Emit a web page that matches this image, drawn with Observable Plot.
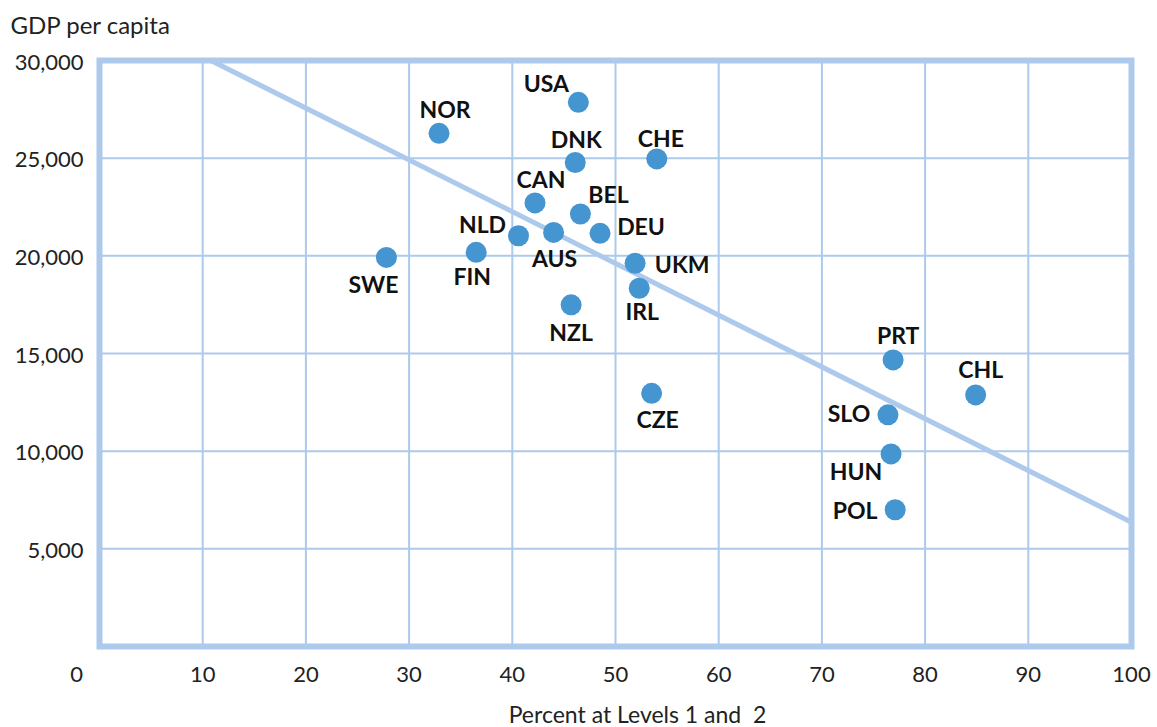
<!DOCTYPE html>
<html>
<head>
<meta charset="utf-8">
<script src="https://cdn.jsdelivr.net/npm/d3@7"></script>
<script src="https://cdn.jsdelivr.net/npm/@observablehq/plot@0.6"></script>
<style>
  html, body { margin: 0; padding: 0; background: #fff; }
  #chart svg { display: block; }
</style>
</head>
<body>
<div id="chart"></div>
<script>
// ---- data ----
const codes   = ["USA","NOR","DNK","CHE","CAN","BEL","DEU","NLD","AUS","FIN","SWE","UKM","IRL","NZL","CZE","PRT","CHL","SLO","HUN","POL"];
const percent = [46.4, 32.9, 46.1, 54.0, 42.2, 46.6, 48.5, 40.6, 44.0, 36.5, 27.8, 51.9, 52.3, 45.7, 53.5, 76.9, 84.9, 76.4, 76.7, 77.1];
const gdp     = [27860, 26270, 24780, 24960, 22710, 22140, 21150, 21030, 21200, 20180, 19920, 19620, 18340, 17490, 12960, 14670, 12880, 11860, 9860, 7000];
const trendX  = [10.8, 100];
const trendY  = [30000, 6360];
const xTicks  = [0, 10, 20, 30, 40, 50, 60, 70, 80, 90, 100];
const yTicks  = [5000, 10000, 15000, 20000, 25000, 30000];
const yTitle  = "GDP per capita";
const xTitle  = "Percent at Levels 1 and\u00a0 2";

// ---- layout (label placement, not data) ----
const labelOffset = {
  USA: [-32, -18], NOR: [6, -23], DNK: [1, -22], CHE: [4, -19], CAN: [6, -22],
  BEL: [28, -18], DEU: [41, -6], NLD: [-36, -10], AUS: [1, 27], FIN: [-4, 25],
  SWE: [-13, 28], UKM: [47, 2], IRL: [3, 24], NZL: [0, 29], CZE: [6, 27],
  PRT: [5, -23], CHL: [5, -24], SLO: [-39, 0], HUN: [-35, 19], POL: [-40, 2]
};

const rows = codes.map((c, i) => ({code: c, x: percent[i], y: gdp[i]}));
const trend = trendX.map((x, i) => ({x, y: trendY[i]}));

const light = "#adc9ec";
const dotColor = "#4595d1";
const ink = "#222";
const font = "Lato, 'Open Sans', sans-serif";

const labelMarks = rows.map(d => Plot.text([d], {
  x: "x", y: "y", text: "code",
  dx: labelOffset[d.code][0], dy: labelOffset[d.code][1],
  fontSize: 23, fontWeight: 700, fill: "#111"
}));

const tickStyle = {tickSize: 0, fontSize: 22, fontWeight: 400, fill: ink, label: null};

const chart = Plot.plot({
  width: 1157,
  height: 727,
  marginLeft: 99,
  marginRight: 26,
  marginTop: 60,
  marginBottom: 81,
  style: {fontFamily: font, background: "#fff", color: ink},
  x: {domain: [0, 100], axis: null},
  y: {domain: [0, 30000], axis: null},
  marks: [
    Plot.gridX(xTicks.slice(1, -1), {stroke: light, strokeOpacity: 1, strokeWidth: 2}),
    Plot.gridY(yTicks.slice(0, -1), {stroke: light, strokeOpacity: 1, strokeWidth: 2}),
    Plot.line(trend, {x: "x", y: "y", stroke: light, strokeWidth: 5, clip: true}),
    Plot.frame({stroke: light, strokeWidth: 6}),
    Plot.dot(rows, {x: "x", y: "y", r: 10.5, fill: dotColor, stroke: "none"}),
    ...labelMarks,
    Plot.axisX(xTicks.filter(d => d > 0), {...tickStyle, tickPadding: 20}),
    Plot.axisX([0], {...tickStyle, tickPadding: 20, dx: -23}),
    Plot.axisY(yTicks, {...tickStyle, tickPadding: 16, tickFormat: d3.format(","), dy: 2}),
    Plot.text([yTitle], {frameAnchor: "top-left", textAnchor: "start", lineAnchor: "bottom", dx: -89, dy: -27, fontSize: 24, fontWeight: 400, fill: ink}),
    Plot.text([xTitle], {frameAnchor: "bottom", lineAnchor: "bottom", dx: 22, dy: 76, fontSize: 23, fontWeight: 400, fill: ink})
  ]
});
document.getElementById("chart").appendChild(chart);
</script>
</body>
</html>
